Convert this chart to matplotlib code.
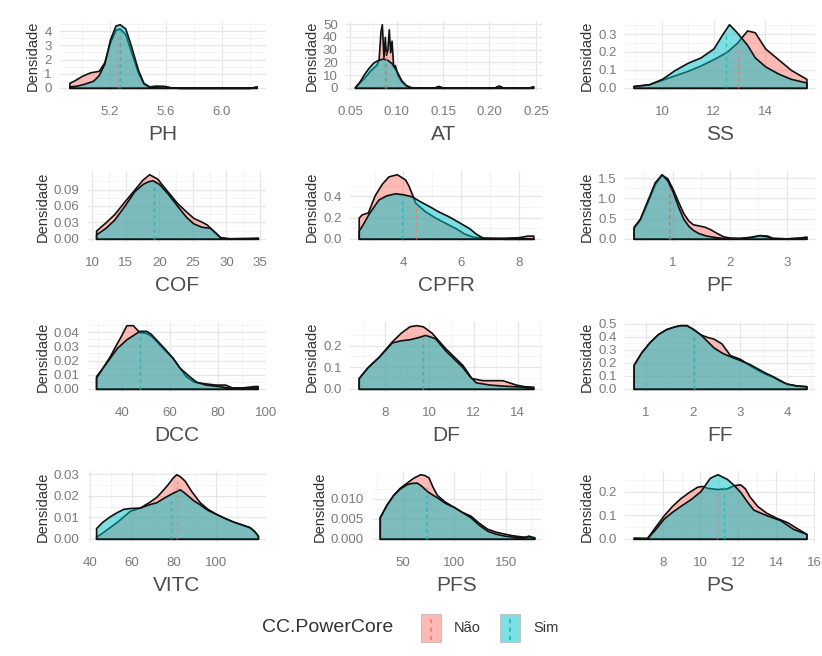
import numpy as np
import matplotlib.pyplot as plt
from matplotlib.colors import to_rgba
from matplotlib.patches import Rectangle
from matplotlib.lines import Line2D

plt.rcParams['font.family'] = ['Liberation Sans', 'DejaVu Sans']

W, H = 822, 656
NAO = '#F8766D'
SIM = '#00BFC4'
groups = ['Não', 'Sim']

# ---- Density curves: (x, y) per group ----
ph_nao = ([4.91, 4.95, 5.00, 5.06, 5.12, 5.16, 5.20, 5.24, 5.27, 5.31, 5.35, 5.40, 5.44, 5.48, 5.53, 5.58, 5.64, 5.70, 6.20, 6.25],
          [0.35, 0.55, 0.85, 1.1, 1.2, 1.8, 3.2, 4.1, 4.2, 3.8, 2.6, 1.1, 0.3, 0.1, 0.15, 0.1, 0.02, 0.0, 0.0, 0.08])
ph_sim = ([4.91, 4.96, 5.02, 5.08, 5.12, 5.16, 5.20, 5.24, 5.27, 5.31, 5.35, 5.40, 5.44, 5.48, 5.53, 5.58, 5.64, 5.70, 6.20, 6.25],
          [0.1, 0.15, 0.3, 0.5, 0.9, 1.7, 3.4, 4.4, 4.5, 4.2, 3.0, 1.3, 0.35, 0.1, 0.12, 0.15, 0.03, 0.0, 0.0, 0.1])
ph_means = [5.26, 5.27]

at_nao = ([0.055, 0.065, 0.072, 0.078, 0.0805, 0.0825, 0.0840, 0.0858, 0.0872, 0.0885, 0.0900, 0.0915, 0.0930, 0.0945, 0.0962, 0.098, 0.101, 0.105, 0.11, 0.115, 0.12, 0.14, 0.145, 0.15, 0.205, 0.21, 0.215, 0.242, 0.247],
          [0.5, 8, 14, 18, 22, 44, 50, 24, 40, 26, 30, 46, 28, 37, 17, 18, 10, 5, 2, 0.5, 0.2, 0.1, 1.2, 0.1, 0.1, 1.5, 0.1, 0.1, 1.0])
at_sim = ([0.055, 0.06, 0.065, 0.07, 0.075, 0.08, 0.085, 0.09, 0.095, 0.10, 0.105, 0.11, 0.115, 0.12, 0.14, 0.145, 0.15, 0.205, 0.21, 0.215, 0.242, 0.247],
          [0.5, 5, 11, 16, 20, 22, 23, 22, 19, 13, 6, 2, 0.5, 0.2, 0.1, 1.5, 0.1, 0.1, 1.8, 0.1, 0.1, 1.2])
at_means = [0.088, 0.087]

ss_nao = ([8.9, 9.5, 10.0, 10.5, 11.0, 11.5, 12.0, 12.5, 12.9, 13.3, 13.6, 14.0, 14.5, 15.0, 15.6],
          [0.01, 0.02, 0.045, 0.07, 0.095, 0.125, 0.16, 0.2, 0.25, 0.32, 0.31, 0.22, 0.16, 0.1, 0.05])
ss_sim = ([8.9, 9.5, 10.0, 10.5, 11.0, 11.5, 12.0, 12.3, 12.6, 12.9, 13.3, 13.6, 14.0, 14.5, 15.0, 15.6],
          [0.01, 0.02, 0.05, 0.1, 0.14, 0.17, 0.22, 0.29, 0.355, 0.31, 0.24, 0.17, 0.12, 0.08, 0.05, 0.03])
ss_means = [12.93, 12.49]

cof_nao = ([10.6, 12.0, 13.3, 14.8, 16.3, 17.5, 18.5, 19.7, 21.0, 22.7, 24.0, 25.1, 26.2, 27.1, 28.2, 29.1, 30.5, 34.7],
           [0.015, 0.03, 0.045, 0.068, 0.09, 0.108, 0.118, 0.11, 0.09, 0.065, 0.05, 0.038, 0.032, 0.026, 0.012, 0.003, 0.001, 0.002])
cof_sim = ([10.6, 12.0, 13.3, 14.8, 16.3, 17.5, 18.3, 19.0, 20.0, 21.3, 22.7, 24.0, 25.1, 26.3, 27.6, 28.5, 29.1, 30.5, 34.7],
           [0.008, 0.02, 0.035, 0.06, 0.087, 0.1, 0.105, 0.107, 0.1, 0.082, 0.06, 0.04, 0.028, 0.022, 0.02, 0.01, 0.002, 0.0, 0.001])
cof_means = [19.2, 19.2]

cpfr_nao = ([2.45, 2.55, 2.77, 3.0, 3.25, 3.48, 3.77, 4.06, 4.18, 4.41, 4.75, 5.1, 5.45, 5.81, 6.1, 6.4, 6.75, 7.5, 8.0, 8.3, 8.5],
            [0.2, 0.23, 0.25, 0.41, 0.52, 0.59, 0.61, 0.56, 0.5, 0.34, 0.26, 0.2, 0.15, 0.1, 0.05, 0.02, 0.01, 0.01, 0.015, 0.03, 0.03])
cpfr_sim = ([2.45, 2.55, 2.8, 3.13, 3.4, 3.71, 4.0, 4.3, 4.6, 4.88, 5.2, 5.58, 5.9, 6.28, 6.5, 6.75, 7.5, 8.5],
            [0.08, 0.12, 0.24, 0.37, 0.41, 0.43, 0.42, 0.4, 0.35, 0.31, 0.26, 0.21, 0.16, 0.1, 0.05, 0.01, 0.0, 0.0])
cpfr_means = [4.42, 3.95]

pf_nao = ([0.31, 0.42, 0.55, 0.68, 0.80, 0.90, 1.0, 1.09, 1.18, 1.27, 1.35, 1.45, 1.55, 1.65, 1.76, 1.88, 2.0, 2.17, 2.35, 2.52, 2.65, 2.75, 3.0, 3.2, 3.34],
          [0.27, 0.48, 0.9, 1.35, 1.59, 1.5, 1.22, 0.92, 0.64, 0.45, 0.36, 0.33, 0.3, 0.24, 0.15, 0.06, 0.03, 0.02, 0.03, 0.09, 0.08, 0.02, 0.01, 0.03, 0.05])
pf_sim = ([0.31, 0.42, 0.55, 0.68, 0.80, 0.90, 1.0, 1.09, 1.18, 1.27, 1.35, 1.45, 1.58, 1.75, 1.88, 2.0, 2.17, 2.35, 2.52, 2.65, 2.75, 3.0, 3.2, 3.34],
          [0.3, 0.5, 0.95, 1.4, 1.6, 1.45, 1.15, 0.8, 0.5, 0.32, 0.22, 0.14, 0.08, 0.04, 0.02, 0.015, 0.02, 0.05, 0.09, 0.06, 0.02, 0.01, 0.02, 0.05])
pf_means = [0.94, 0.93]

dcc_nao = ([29.3, 32, 35, 37.5, 39.8, 41.9, 44.6, 47.3, 49.0, 50.8, 52.5, 54.2, 57.5, 61.1, 64, 66.6, 70, 74, 79, 83, 85.8, 90, 95.4, 96.5],
           [0.009, 0.015, 0.023, 0.031, 0.038, 0.045, 0.045, 0.04, 0.04, 0.039, 0.037, 0.034, 0.028, 0.022, 0.015, 0.009, 0.005, 0.004, 0.003, 0.003, 0.001, 0.001, 0.002, 0.002])
dcc_sim = ([29.3, 32, 35, 38, 41.9, 44.6, 47.3, 50.1, 52, 54.2, 57.5, 61.1, 64, 68, 71, 74.8, 80, 85.8, 90, 95.4, 96.5],
           [0.008, 0.015, 0.022, 0.029, 0.035, 0.038, 0.041, 0.041, 0.039, 0.035, 0.029, 0.022, 0.015, 0.009, 0.005, 0.003, 0.002, 0.0005, 0.0005, 0.001, 0.001])
dcc_means = [47.7, 47.7]

df_nao = ([6.8, 7.2, 7.7, 8.3, 8.7, 9.1, 9.4, 9.7, 10.1, 10.4, 10.7, 11.1, 11.5, 11.9, 12.4, 12.9, 13.3, 13.9, 14.3, 14.7],
          [0.05, 0.1, 0.148, 0.22, 0.26, 0.29, 0.295, 0.29, 0.26, 0.225, 0.19, 0.15, 0.11, 0.05, 0.04, 0.04, 0.04, 0.02, 0.012, 0.01])
df_sim = ([6.8, 7.2, 7.7, 8.3, 8.7, 9.1, 9.5, 9.8, 10.25, 10.7, 11.1, 11.5, 11.8, 12.1, 12.7, 13.3, 14.2, 14.7],
          [0.05, 0.1, 0.148, 0.215, 0.225, 0.23, 0.24, 0.25, 0.235, 0.18, 0.14, 0.1, 0.06, 0.03, 0.02, 0.015, 0.01, 0.005])
df_means = [9.7, 9.7]

ff_nao = ([0.74, 0.9, 1.08, 1.25, 1.43, 1.6, 1.72, 1.86, 2.0, 2.15, 2.29, 2.43, 2.6, 2.78, 3.0, 3.2, 3.35, 3.5, 3.7, 3.85, 3.98, 4.2, 4.4],
          [0.185, 0.28, 0.36, 0.42, 0.46, 0.48, 0.49, 0.49, 0.46, 0.42, 0.4, 0.387, 0.35, 0.26, 0.23, 0.18, 0.15, 0.12, 0.09, 0.06, 0.04, 0.025, 0.02])
ff_sim = ([0.74, 0.9, 1.08, 1.25, 1.43, 1.6, 1.72, 1.86, 2.0, 2.15, 2.29, 2.43, 2.6, 2.72, 3.0, 3.2, 3.35, 3.5, 3.7, 3.85, 3.98, 4.2, 4.4],
          [0.185, 0.28, 0.36, 0.42, 0.46, 0.48, 0.49, 0.49, 0.46, 0.42, 0.37, 0.32, 0.28, 0.26, 0.22, 0.19, 0.16, 0.13, 0.095, 0.065, 0.04, 0.025, 0.02])
ff_means = [2.02, 2.02]

vitc_nao = ([42.9, 46, 49.5, 53, 56, 59, 63.8, 68, 71.7, 75, 77.3, 79.5, 81.3, 83, 85.2, 88.5, 92.4, 96, 100.3, 104, 108.3, 112, 116.2, 118.5, 120.2],
            [0.001, 0.003, 0.0055, 0.008, 0.0105, 0.013, 0.0145, 0.017, 0.0195, 0.023, 0.0256, 0.0285, 0.03, 0.029, 0.027, 0.022, 0.017, 0.014, 0.0115, 0.0098, 0.008, 0.0068, 0.0054, 0.0035, 0.0014])
vitc_sim = ([42.9, 46, 49.5, 53, 55.9, 59, 63.8, 68, 71.7, 75, 78.9, 82.9, 85, 89.2, 92.4, 96, 100.3, 104, 108.3, 112, 116.2, 118.5, 120.2],
            [0.005, 0.008, 0.0105, 0.0125, 0.0139, 0.0143, 0.0145, 0.016, 0.017, 0.019, 0.0211, 0.023, 0.0215, 0.018, 0.016, 0.0135, 0.0115, 0.0098, 0.008, 0.0068, 0.0054, 0.0035, 0.0014])
vitc_means = [81.5, 78.5]

pfs_nao = ([27.5, 34, 40.6, 47, 53.7, 60, 66.8, 71, 75, 79, 83.2, 91, 99.5, 107, 115.8, 124, 132.2, 140, 148.5, 156, 164.8, 172, 177.9],
           [0.0054, 0.0085, 0.011, 0.0128, 0.0141, 0.0153, 0.0162, 0.016, 0.0154, 0.013, 0.011, 0.0093, 0.008, 0.0068, 0.0058, 0.004, 0.0025, 0.0018, 0.0013, 0.0009, 0.0006, 0.0005, 0.0004])
pfs_sim = ([27.5, 34, 40.6, 47, 53.7, 58, 63.5, 68, 73.4, 78, 83.2, 91, 99.5, 107, 115.8, 124, 132.2, 140, 148.5, 158, 168, 172, 177.9],
           [0.0054, 0.0085, 0.011, 0.0126, 0.0137, 0.014, 0.0141, 0.0133, 0.012, 0.0112, 0.0104, 0.009, 0.008, 0.0068, 0.0054, 0.0035, 0.002, 0.0013, 0.0008, 0.0005, 0.0003, 0.0008, 0.0003])
pfs_means = [73.4, 73.0]

ps_nao = ([6.47, 7.18, 7.6, 8.06, 8.5, 8.94, 9.4, 9.83, 10.1, 10.36, 10.89, 11.4, 11.75, 12.1, 12.35, 12.6, 13.0, 13.5, 14.0, 14.6, 15.1, 15.6],
          [0.004, 0.004, 0.05, 0.1, 0.14, 0.173, 0.2, 0.222, 0.225, 0.217, 0.212, 0.215, 0.228, 0.232, 0.215, 0.18, 0.14, 0.11, 0.09, 0.07, 0.045, 0.021])
ps_sim = ([6.47, 7.18, 7.6, 8.06, 8.5, 8.94, 9.5, 10.0, 10.5, 10.9, 11.4, 11.75, 12.1, 12.45, 12.8, 13.5, 14.2, 14.9, 15.6],
          [0.004, 0.002, 0.04, 0.086, 0.115, 0.14, 0.17, 0.203, 0.26, 0.275, 0.255, 0.23, 0.2, 0.16, 0.124, 0.1, 0.08, 0.042, 0.021])
ps_means = [10.85, 11.25]

# ---- Axis breaks ----
ph_xt, ph_yt = [5.2, 5.6, 6.0], [0, 1, 2, 3, 4]
at_xt, at_yt = [0.05, 0.10, 0.15, 0.20, 0.25], [0, 10, 20, 30, 40, 50]
ss_xt, ss_yt = [10, 12, 14], [0, 0.1, 0.2, 0.3]
cof_xt, cof_yt = [10, 15, 20, 25, 30, 35], [0, 0.03, 0.06, 0.09]
cpfr_xt, cpfr_yt = [4, 6, 8], [0, 0.2, 0.4]
pf_xt, pf_yt = [1, 2, 3], [0, 0.5, 1.0, 1.5]
dcc_xt, dcc_yt = [40, 60, 80, 100], [0, 0.01, 0.02, 0.03, 0.04]
df_xt, df_yt = [8, 10, 12, 14], [0, 0.1, 0.2]
ff_xt, ff_yt = [1, 2, 3, 4], [0, 0.1, 0.2, 0.3, 0.4, 0.5]
vitc_xt, vitc_yt = [40, 60, 80, 100], [0, 0.01, 0.02, 0.03]
pfs_xt, pfs_yt = [50, 100, 150], [0, 0.005, 0.010]
ps_xt, ps_yt = [8, 10, 12, 14, 16], [0, 0.1, 0.2]

panels = [
    ('PH', ph_nao, ph_sim, ph_means, ph_xt, '{:.1f}', ph_yt, '{:.0f}'),
    ('AT', at_nao, at_sim, at_means, at_xt, '{:.2f}', at_yt, '{:.0f}'),
    ('SS', ss_nao, ss_sim, ss_means, ss_xt, '{:.0f}', ss_yt, '{:.1f}'),
    ('COF', cof_nao, cof_sim, cof_means, cof_xt, '{:.0f}', cof_yt, '{:.2f}'),
    ('CPFR', cpfr_nao, cpfr_sim, cpfr_means, cpfr_xt, '{:.0f}', cpfr_yt, '{:.1f}'),
    ('PF', pf_nao, pf_sim, pf_means, pf_xt, '{:.0f}', pf_yt, '{:.1f}'),
    ('DCC', dcc_nao, dcc_sim, dcc_means, dcc_xt, '{:.0f}', dcc_yt, '{:.2f}'),
    ('DF', df_nao, df_sim, df_means, df_xt, '{:.0f}', df_yt, '{:.1f}'),
    ('FF', ff_nao, ff_sim, ff_means, ff_xt, '{:.0f}', ff_yt, '{:.1f}'),
    ('VITC', vitc_nao, vitc_sim, vitc_means, vitc_xt, '{:.0f}', vitc_yt, '{:.2f}'),
    ('PFS', pfs_nao, pfs_sim, pfs_means, pfs_xt, '{:.0f}', pfs_yt, '{:.3f}'),
    ('PS', ps_nao, ps_sim, ps_means, ps_xt, '{:.0f}', ps_yt, '{:.1f}'),
]

# panel boxes in pixels: left, right, top, bottom
col_right = [266, 542, 815]
lefts = [[60, 346, 625], [88, 350, 625], [88, 350, 625], [88, 372, 625]]
row_tb = [(21, 91), (171, 242), (322, 392), (471, 542)]


def minor_breaks(ticks, lo, hi):
    step = ticks[1] - ticks[0]
    m = [t + step / 2 for t in [ticks[0] - step] + list(ticks)]
    return [v for v in m if lo <= v <= hi]


fig = plt.figure(figsize=(W / 100, H / 100), dpi=100)
fig.patch.set_facecolor('white')

for i, (name, nao, sim, means, xt, xfmt, yt, yfmt) in enumerate(panels):
    r, c = divmod(i, 3)
    left, right = lefts[r][c], col_right[c]
    top, bottom = row_tb[r]
    ax = fig.add_axes([left / W, 1 - bottom / H, (right - left) / W, (bottom - top) / H])

    for (xs, ys), col in zip((nao, sim), (NAO, SIM)):
        ax.fill_between(xs, ys, facecolor=to_rgba(col, 0.5), edgecolor='#111111',
                        linewidth=1.2, zorder=2)
    for (xs, ys), col, m in zip((nao, sim), (NAO, SIM), means):
        ax.plot([m, m], [0, 0.9 * np.interp(m, xs, ys)], color=col, lw=1.0,
                alpha=0.75, ls=(0, (2.5, 2.5)), zorder=3)

    xlo = min(nao[0][0], sim[0][0])
    xhi = max(nao[0][-1], sim[0][-1])
    xr = xhi - xlo
    ymax = max(max(nao[1]), max(sim[1]))
    ax.set_xlim(xlo - 0.05 * xr, xhi + 0.05 * xr)
    ax.set_ylim(-0.05 * ymax, 1.05 * ymax)
    lo, hi = ax.get_xlim()
    ax.set_xticks(xt)
    ax.set_xticklabels([xfmt.format(v) for v in xt])
    ax.set_xticks(minor_breaks(xt, lo, hi), minor=True)
    ax.set_yticks(yt)
    ax.set_yticklabels([yfmt.format(v) for v in yt])
    ylo, yhi = ax.get_ylim()
    ax.set_yticks(minor_breaks(yt, ylo, yhi), minor=True)

    ax.grid(which='major', color='#e6e6e6', lw=0.9)
    ax.grid(which='minor', color='#f0f0f0', lw=0.5)
    ax.set_axisbelow(True)
    for s in ax.spines.values():
        s.set_visible(False)
    ax.tick_params(which='both', length=0)
    ax.tick_params(axis='x', pad=11, labelsize=9.5, labelcolor='#7a7a7a')
    ax.tick_params(axis='y', pad=6, labelsize=9.5, labelcolor='#7a7a7a')
    ax.set_xlabel(name, fontsize=15, color='#4d4d4d', labelpad=5)
    ax.set_ylabel('Densidade', fontsize=10.5, color='#333333', labelpad=3)
    ax.set_facecolor('white')

# ---- Legend ----
fig.text(262 / W, 1 - 628 / H, 'CC.PowerCore', fontsize=14, color='#333333',
         ha='left', va='center')
key_x = [421, 500]
for kx, col, lab in zip(key_x, (NAO, SIM), groups):
    x0, y0 = kx / W, 1 - 642 / H
    fig.add_artist(Rectangle((x0, y0), 20 / W, 28 / H, transform=fig.transFigure,
                             facecolor=to_rgba(col, 0.5), edgecolor='#bbbbbb', lw=0.6))
    fig.add_artist(Line2D([(kx + 10) / W] * 2, [y0 + 2 / H, y0 + 26 / H],
                          transform=fig.transFigure, color=col, lw=1.2, ls=(0, (2.5, 2.5))))
    fig.text((kx + 33) / W, 1 - 628 / H, lab, fontsize=10.5, color='#333333',
             ha='left', va='center')

fig.savefig('out.png', dpi=100)
